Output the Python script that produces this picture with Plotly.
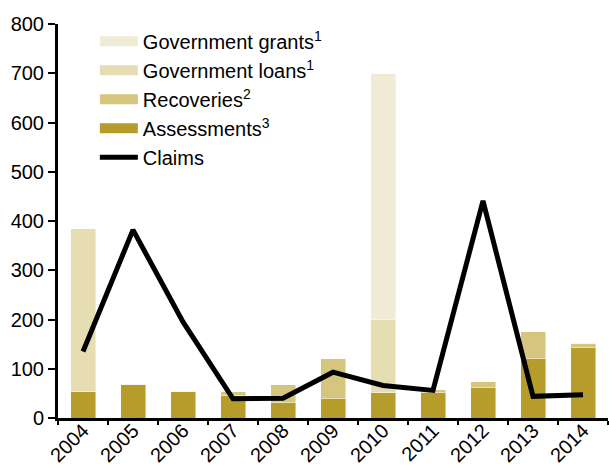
import plotly.graph_objects as go

years = ["2004", "2005", "2006", "2007", "2008", "2009", "2010", "2011", "2012", "2013", "2014"]
assessments = [53, 69, 54, 46, 32, 39, 52, 51, 62, 120, 143]
recoveries = [0, 0, 0, 7, 36, 81, 0, 6, 12, 55, 9]
gov_loans = [331, 0, 0, 0, 0, 0, 148, 0, 0, 0, 0]
gov_grants = [0, 0, 0, 0, 0, 0, 499, 0, 0, 0, 0]
claims = [135, 382, 195, 39, 40, 93, 66, 56, 441, 44, 47]

series_names = ["Government grants<sup>1</sup>", "Government loans<sup>1</sup>",
                "Recoveries<sup>2</sup>", "Assessments<sup>3</sup>"]
series_colors = ["#F0EBD4", "#E6DDB3", "#D6C67D", "#B59C2B"]
series_values = [gov_grants, gov_loans, recoveries, assessments]

FONT = "Liberation Sans"

fig = go.Figure()

# stacked bars, bottom to top: assessments, recoveries, loans, grants
for name, color, vals in reversed(list(zip(series_names, series_colors, series_values))):
    fig.add_trace(go.Bar(
        x=years, y=vals, name=name, showlegend=False,
        marker=dict(color=color, line=dict(color="rgba(255,255,255,0.45)", width=1)),
    ))

fig.add_trace(go.Scatter(
    x=years, y=claims, mode="lines", name="Claims", showlegend=False,
    line=dict(color="black", width=5),
))

# legend entries with wide swatches
for i, (name, color) in enumerate(zip(series_names, series_colors)):
    fig.add_trace(go.Scatter(
        x=[None], y=[None], mode="lines", name=name, legendgroup=f"g{i}",
        line=dict(color=color, width=14),
    ))
fig.add_trace(go.Scatter(
    x=[None], y=[None], mode="lines", name="Claims", legendgroup="g4",
    line=dict(color="black", width=5),
))

fig.update_layout(
    width=609, height=465,
    margin=dict(l=58, r=1, t=24, b=47),
    plot_bgcolor="white", paper_bgcolor="white",
    barmode="stack", bargap=0.5,
    font=dict(family=FONT, size=20, color="black"),
    legend=dict(
        x=0.067, y=1.006, xanchor="left", yanchor="top",
        traceorder="grouped", tracegroupgap=0, itemwidth=38,
        font=dict(family=FONT, size=20, color="black"),
        bgcolor="rgba(0,0,0,0)",
    ),
    xaxis=dict(
        type="category", tickangle=-45, tickson="boundaries", automargin=False,
        ticks="outside", ticklen=4, tickwidth=2, tickcolor="black",
        ticklabelstandoff=-10,
        showline=True, linecolor="black", linewidth=3,
        showgrid=False, zeroline=False,
    ),
    yaxis=dict(
        range=[0, 800], tickvals=[0, 100, 200, 300, 400, 500, 600, 700, 800],
        automargin=False,
        ticks="outside", ticklen=7, tickwidth=2, tickcolor="black",
        showline=True, linecolor="black", linewidth=3,
        showgrid=False, zeroline=False,
    ),
)

fig.write_html("out.html")
